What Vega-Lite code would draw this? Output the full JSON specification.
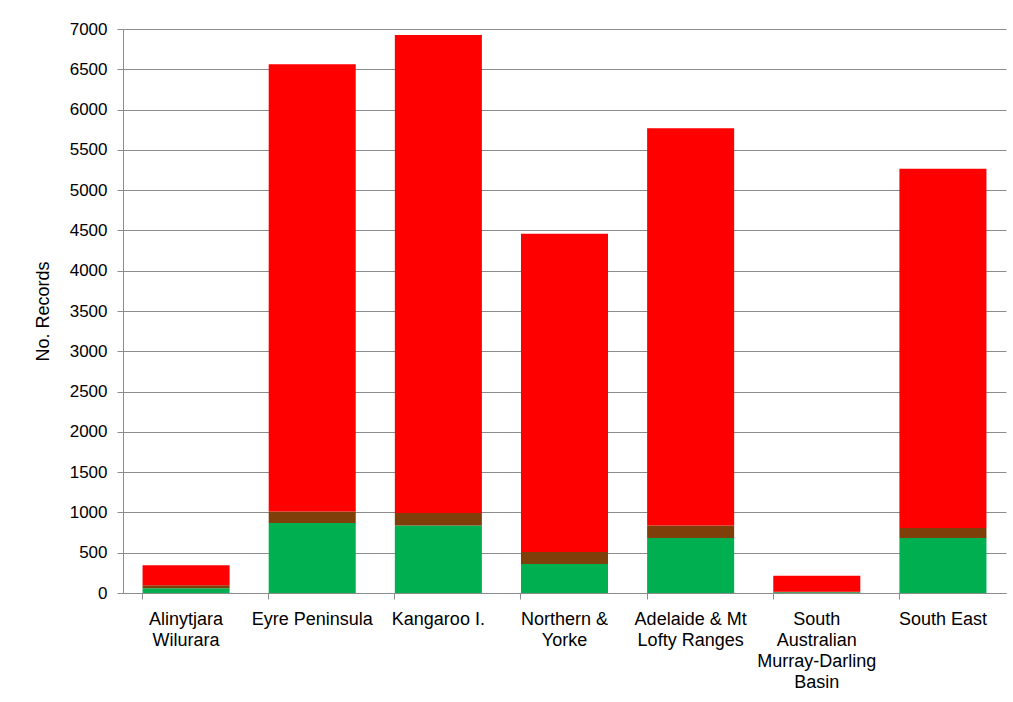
{
  "$schema": "https://vega.github.io/schema/vega-lite/v6.json",
  "autosize": "none",
  "width": 883,
  "height": 564,
  "padding": {"left": 123, "top": 29, "right": 7, "bottom": 109},
  "background": "#ffffff",
  "config": {
    "font": "Liberation Sans",
    "view": {"stroke": null}
  },
  "data": {
    "values": [
      {"region": "Alinytjara Wilurara", "segment": 1, "records": 60},
      {"region": "Alinytjara Wilurara", "segment": 2, "records": 35},
      {"region": "Alinytjara Wilurara", "segment": 3, "records": 250},
      {"region": "Eyre Peninsula", "segment": 1, "records": 868},
      {"region": "Eyre Peninsula", "segment": 2, "records": 144},
      {"region": "Eyre Peninsula", "segment": 3, "records": 5551},
      {"region": "Kangaroo I.", "segment": 1, "records": 839},
      {"region": "Kangaroo I.", "segment": 2, "records": 153},
      {"region": "Kangaroo I.", "segment": 3, "records": 5935},
      {"region": "Northern & Yorke", "segment": 1, "records": 360},
      {"region": "Northern & Yorke", "segment": 2, "records": 149},
      {"region": "Northern & Yorke", "segment": 3, "records": 3949},
      {"region": "Adelaide & Mt Lofty Ranges", "segment": 1, "records": 682},
      {"region": "Adelaide & Mt Lofty Ranges", "segment": 2, "records": 157},
      {"region": "Adelaide & Mt Lofty Ranges", "segment": 3, "records": 4930},
      {"region": "South Australian Murray-Darling Basin", "segment": 1, "records": 8},
      {"region": "South Australian Murray-Darling Basin", "segment": 2, "records": 7},
      {"region": "South Australian Murray-Darling Basin", "segment": 3, "records": 200},
      {"region": "South East", "segment": 1, "records": 682},
      {"region": "South East", "segment": 2, "records": 124},
      {"region": "South East", "segment": 3, "records": 4458}
    ]
  },
  "mark": {"type": "bar"},
  "encoding": {
    "x": {
      "field": "region",
      "type": "nominal",
      "sort": null,
      "scale": {"paddingInner": 0.31, "paddingOuter": 0.155},
      "axis": {
        "title": null,
        "labelAngle": 0,
        "labelFont": "Liberation Sans",
        "labelFontSize": 18,
        "labelFontWeight": "normal",
        "labelColor": "#000000",
        "labelLineHeight": 21,
        "labelPadding": 11,
        "labelBaseline": "top",
        "bandPosition": 0,
        "tickSize": 6,
        "tickColor": "#8c8c8c",
        "domainColor": "#8c8c8c",
        "grid": false,
        "labelExpr": "datum.value == 'Alinytjara Wilurara' ? ['Alinytjara', 'Wilurara'] : datum.value == 'Northern & Yorke' ? ['Northern &', 'Yorke'] : datum.value == 'Adelaide & Mt Lofty Ranges' ? ['Adelaide & Mt', 'Lofty Ranges'] : datum.value == 'South Australian Murray-Darling Basin' ? ['South', 'Australian', 'Murray-Darling', 'Basin'] : datum.value"
      }
    },
    "y": {
      "field": "records",
      "type": "quantitative",
      "stack": "zero",
      "scale": {"domain": [0, 7000], "nice": false},
      "axis": {
        "title": "No. Records",
        "titleFontSize": 18,
        "titleFontWeight": "normal",
        "titleColor": "#000000",
        "titlePadding": 17,
        "values": [0, 500, 1000, 1500, 2000, 2500, 3000, 3500, 4000, 4500, 5000, 5500, 6000, 6500, 7000],
        "format": "d",
        "labelFontSize": 17,
        "labelFontWeight": "normal",
        "labelColor": "#000000",
        "labelPadding": 10,
        "tickSize": 6,
        "tickColor": "#8c8c8c",
        "domainColor": "#8c8c8c",
        "gridColor": "#8c8c8c",
        "gridOpacity": 1
      }
    },
    "color": {
      "field": "segment",
      "type": "ordinal",
      "scale": {"domain": [1, 2, 3], "range": ["#00B050", "#7F3F0A", "#FF0000"]},
      "legend": null
    },
    "order": {"field": "segment", "type": "quantitative", "sort": "ascending"}
  }
}
